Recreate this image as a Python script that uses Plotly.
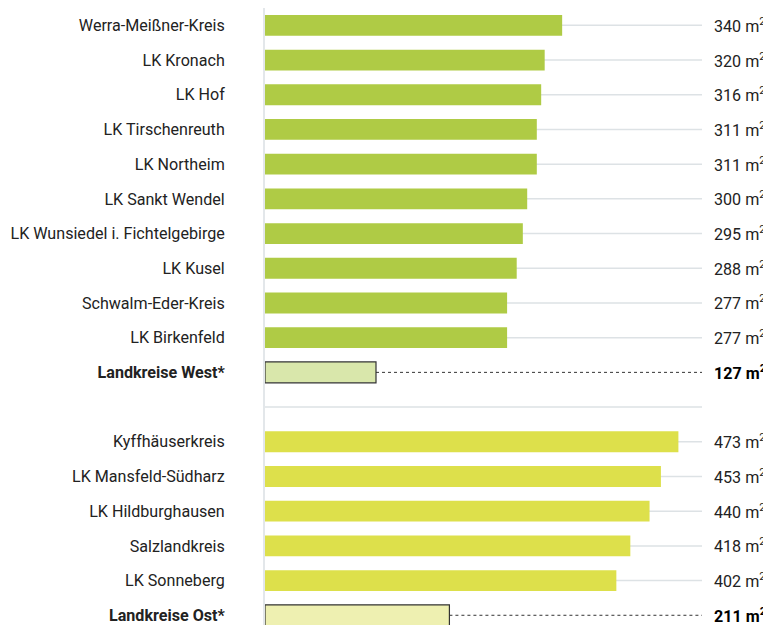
import plotly.graph_objects as go

west_names = ["Werra-Meißner-Kreis", "LK Kronach", "LK Hof", "LK Tirschenreuth", "LK Northeim",
              "LK Sankt Wendel", "LK Wunsiedel i. Fichtelgebirge", "LK Kusel",
              "Schwalm-Eder-Kreis", "LK Birkenfeld"]
west_values = [340, 320, 316, 311, 311, 300, 295, 288, 277, 277]
west_avg_name = "Landkreise West*"
west_avg = 127

ost_names = ["Kyffhäuserkreis", "LK Mansfeld-Südharz", "LK Hildburghausen", "Salzlandkreis", "LK Sonneberg"]
ost_values = [473, 453, 440, 418, 402]
ost_avg_name = "Landkreise Ost*"
ost_avg = 211

gap = "__gap__"
categories = west_names + [west_avg_name, gap] + ost_names + [ost_avg_name]
bold = {west_avg_name, ost_avg_name}
ticktext = ["" if c == gap else (f"<b>{c}</b>" if c in bold else c) for c in categories]

C_WEST = "#afcb45"
C_OST = "#dde04b"
C_WEST_AVG = "#d9e7ab"
C_OST_AVG = "#eef0b1"
GRID = "#dde2e5"
FONT = "Roboto, Arial, sans-serif"
FS = 16.1

fig = go.Figure()
fig.add_trace(go.Bar(y=west_names, x=west_values, orientation="h", marker=dict(color=C_WEST, line=dict(width=0)), width=0.6))
fig.add_trace(go.Bar(y=ost_names, x=ost_values, orientation="h", marker=dict(color=C_OST, line=dict(width=0)), width=0.6))
fig.add_trace(go.Bar(y=[west_avg_name, ost_avg_name], x=[west_avg, ost_avg], orientation="h",
                     marker=dict(color=[C_WEST_AVG, C_OST_AVG], line=dict(color="#333333", width=1.2)), width=0.6))

XMAX = 500
shapes = []
annotations = []
all_vals = dict(zip(west_names + ost_names, west_values + ost_values))
all_vals[west_avg_name] = west_avg
all_vals[ost_avg_name] = ost_avg
for c in categories:
    if c in bold:
        shapes.append(dict(type="line", xref="x", yref="y", x0=all_vals[c], x1=XMAX, y0=c, y1=c,
                           line=dict(color="#333333", width=1, dash="dot"), layer="below"))
    else:
        shapes.append(dict(type="line", xref="x", yref="y", x0=0, x1=XMAX, y0=c, y1=c,
                           line=dict(color=GRID, width=1.5), layer="below"))
    if c != gap:
        v = all_vals[c]
        txt = f"<b>{v} m<sup>2</sup></b>" if c in bold else f"{v} m<sup>2</sup>"
        annotations.append(dict(x=1, xref="paper", y=c, yref="y", text=txt, showarrow=False,
                                xanchor="left", xshift=10,
                                font=dict(size=FS, color="#000000" if c in bold else "#222222", family=FONT)))

# the page body adds an 8px offset, so the figure is sized to fit the remaining window
fig.update_layout(
    width=763, height=617,
    margin=dict(l=257, r=69, t=0, b=0, autoexpand=False),
    paper_bgcolor="white", plot_bgcolor="white",
    showlegend=False, barmode="overlay",
    shapes=shapes, annotations=annotations,
    font=dict(family=FONT, size=FS, color="#222222"),
    xaxis=dict(range=[0, XMAX], showgrid=False, zeroline=False, showticklabels=False, showline=False,
               fixedrange=True, automargin=False),
    yaxis=dict(type="category", categoryorder="array", categoryarray=categories,
               tickvals=categories, ticktext=ticktext, automargin=False,
               range=[17.28, -0.5], showgrid=False, zeroline=False,
               showline=True, linecolor="#e3e7ea", linewidth=2, ticks="",
               ticklabelstandoff=35, tickfont=dict(size=FS, color="#222222", family=FONT)),
)

fig.write_html("out.html")
